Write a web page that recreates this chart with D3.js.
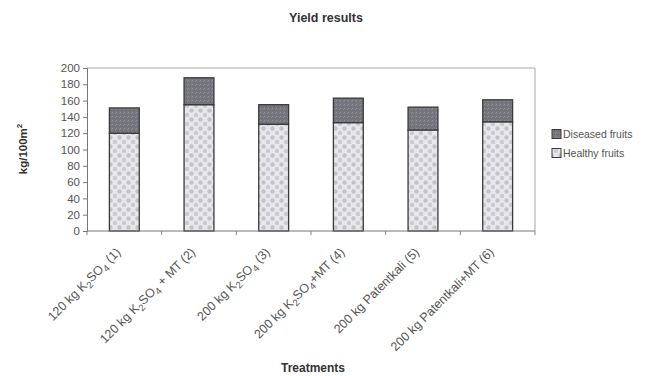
<!DOCTYPE html>
<html>
<head>
<meta charset="utf-8">
<script src="https://cdn.jsdelivr.net/npm/d3@7"></script>
<style>
  html, body { margin: 0; padding: 0; background: #fff; }
  svg { display: block; font-family: Arial, "Liberation Sans", sans-serif; }
</style>
</head>
<body>
<svg id="chart" width="659" height="376"></svg>
<script>
// Treatments (label parts: [text, isSubscript])
const treatments = [
  [["120 kg K", 0], ["2", 1], ["SO", 0], ["4", 1], [" (1)", 0]],
  [["120 kg K", 0], ["2", 1], ["SO", 0], ["4", 1], [" + MT (2)", 0]],
  [["200 kg K", 0], ["2", 1], ["SO", 0], ["4", 1], [" (3)", 0]],
  [["200 kg K", 0], ["2", 1], ["SO", 0], ["4", 1], ["+MT (4)", 0]],
  [["200 kg Patentkali (5)", 0]],
  [["200 kg Patentkali+MT (6)", 0]]
];
const healthy = [120, 155, 131, 133, 124, 134];
const diseased = [31, 33, 24, 30, 28, 27];
const yTicks = [0, 20, 40, 60, 80, 100, 120, 140, 160, 180, 200];
const seriesNames = ["Healthy fruits", "Diseased fruits"];

const svg = d3.select("#chart");
const margin = { left: 87, right: 124, top: 68, bottom: 145 };
const W = 659, H = 376;

const ids = d3.range(treatments.length);
const x = d3.scaleBand().domain(ids)
  .range([margin.left, W - margin.right])
  .paddingInner(0.6).paddingOuter(0.3);
const y = d3.scaleLinear().domain([0, 200]).range([H - margin.bottom, margin.top]);

// Fill patterns
const defs = svg.append("defs");
const pH = defs.append("pattern").attr("id", "patHealthy")
  .attr("patternUnits", "userSpaceOnUse").attr("width", 9).attr("height", 9);
pH.append("rect").attr("width", 9).attr("height", 9).attr("fill", "#e8e8ec");
pH.append("circle").attr("cx", 2.5).attr("cy", 2.5).attr("r", 2.2).attr("fill", "#c2c2c9");
pH.append("circle").attr("cx", 7).attr("cy", 7).attr("r", 2.2).attr("fill", "#cbcbd1");

const pD = defs.append("pattern").attr("id", "patDiseased")
  .attr("patternUnits", "userSpaceOnUse").attr("width", 4).attr("height", 4);
pD.append("rect").attr("width", 4).attr("height", 4).attr("fill", "#76767f");
pD.append("rect").attr("x", 0).attr("y", 0).attr("width", 1).attr("height", 1).attr("fill", "#90909a");
pD.append("rect").attr("x", 2).attr("y", 2).attr("width", 1).attr("height", 1).attr("fill", "#65656e");
pD.append("rect").attr("x", 3).attr("y", 1).attr("width", 1).attr("height", 1).attr("fill", "#88888f");

// Plot frame (top and right)
const [r0, r1] = x.range();
svg.append("path")
  .attr("d", `M${r0},${y(200)}H${r1}V${y(0)}`)
  .attr("fill", "none").attr("stroke", "#a8a8a8").attr("stroke-width", 1);

// Stacked bars
const stacked = d3.stack().keys([0, 1])(ids.map(i => [healthy[i], diseased[i]]));
const fills = ["url(#patHealthy)", "url(#patDiseased)"];
stacked.forEach((layer, k) => {
  svg.append("g").selectAll("rect").data(layer).join("rect")
    .attr("x", (d, i) => x(i))
    .attr("width", x.bandwidth())
    .attr("y", d => y(d[1]))
    .attr("height", d => y(d[0]) - y(d[1]))
    .attr("fill", fills[k])
    .attr("stroke", "#3a3a3a").attr("stroke-width", 1.3);
});

// Y axis
const yAxis = svg.append("g").attr("transform", `translate(${r0},0)`)
  .call(d3.axisLeft(y).tickValues(yTicks).tickSize(4).tickPadding(3));
yAxis.select(".domain").attr("stroke", "#777");
yAxis.selectAll(".tick line").attr("stroke", "#777");
yAxis.selectAll("text").attr("font-size", 11.5).attr("fill", "#555");

// X axis with ticks between categories
const xAxis = svg.append("g").attr("transform", `translate(0,${y(0)})`);
xAxis.append("line").attr("x1", r0).attr("x2", r1)
  .attr("stroke", "#777");
const bounds = d3.range(treatments.length + 1).map(i => r0 + i * x.step());
xAxis.selectAll("line.tk").data(bounds).join("line").attr("class", "tk")
  .attr("x1", d => d).attr("x2", d => d).attr("y1", 0).attr("y2", 4)
  .attr("stroke", "#888");

// Category labels, rotated
const lbl = svg.append("g").selectAll("text").data(treatments).join("text")
  .attr("transform", (d, i) => `translate(${x(i) + x.bandwidth() / 2 - 3},${y(0) + 22}) rotate(-45)`)
  .attr("text-anchor", "end")
  .attr("font-size", 12.5)
  .attr("fill", "#555");
lbl.each(function(parts) {
  const t = d3.select(this);
  parts.forEach(([s, sub], j) => {
    const prevSub = j > 0 && parts[j - 1][1];
    const ts = t.append("tspan").text(s);
    if (sub) ts.attr("font-size", 9.5).attr("dy", 3.5);
    else if (prevSub) ts.attr("dy", -3.5);
  });
});

// Legend
const legend = svg.append("g");
const legendItems = [
  { name: seriesNames[1], fill: "url(#patDiseased)", y: 134 },
  { name: seriesNames[0], fill: "url(#patHealthy)", y: 153 }
];
legendItems.forEach(it => {
  legend.append("rect").attr("x", 552).attr("y", it.y - 4.5).attr("width", 9).attr("height", 9)
    .attr("fill", it.fill).attr("stroke", "#3a3a3a").attr("stroke-width", 1);
  legend.append("text").attr("x", 563).attr("y", it.y + 4)
    .attr("font-size", 10.5).attr("fill", "#555").text(it.name);
});

// Titles
svg.append("text").attr("x", 326).attr("y", 22).attr("text-anchor", "middle")
  .attr("font-size", 12.5).attr("font-weight", "bold").attr("fill", "#333").text("Yield results");
svg.append("text").attr("x", 313).attr("y", 372).attr("text-anchor", "middle")
  .attr("font-size", 12).attr("font-weight", "bold").attr("fill", "#333").text("Treatments");
const yl = svg.append("text").attr("transform", `translate(27,149) rotate(-90)`)
  .attr("text-anchor", "middle").attr("font-size", 11.5).attr("font-weight", "bold").attr("fill", "#333");
yl.append("tspan").text("kg/100m");
yl.append("tspan").attr("font-size", 8).attr("dy", -5).text("2");
</script>
</body>
</html>
